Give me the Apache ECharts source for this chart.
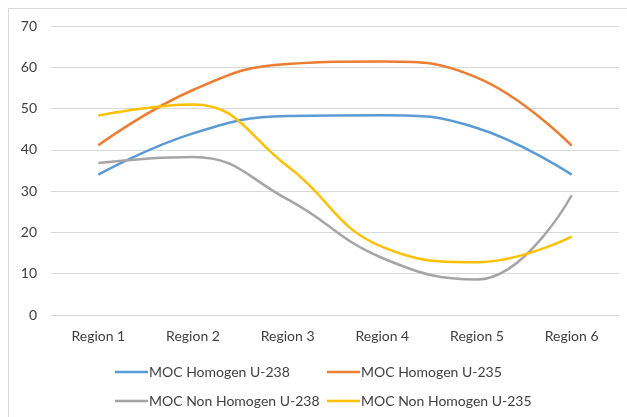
<!DOCTYPE html>
<html><head><meta charset="utf-8">
<script src="https://cdn.jsdelivr.net/npm/echarts@6/dist/echarts.min.js"></script>
<style>html,body{margin:0;padding:0;background:#fff}#c{width:627px;height:417px}</style>
</head><body><div id="c"></div>
<script>
var categories = ['Region 1','Region 2','Region 3','Region 4','Region 5','Region 6'];
var homU238 = [34, 44, 48.2, 48.4, 45.3, 34];
var homU235 = [41.1, 54.5, 60.8, 61.4, 57.5, 41];
var nonHomU238 = [36.8, 38.3, 28, 13.8, 8.6, 29];
var nonHomU235 = [48.3, 51, 36, 16.5, 12.8, 19];
var seriesNames = ['MOC Homogen U-238','MOC Homogen U-235','MOC Non Homogen U-238','MOC Non Homogen U-235'];
var colors = ['#5B9BD5','#ED7D31','#A5A5A5','#FFC000'];
var seriesData = [homU238, homU235, nonHomU238, nonHomU235];

var font = 'Lato, "Open Sans", sans-serif';
function lg(name, left, top) {
  return {
    data: [name], left: left, top: top, icon: 'rect', itemWidth: 33, itemHeight: 2.5, itemGap: 0,
    textStyle: {fontFamily: font, fontSize: 14, color: '#404040', padding: [0,0,0,-4]}
  };
}
var chart = echarts.init(document.getElementById('c'), null, {renderer: 'canvas'});
chart.setOption({
  animation: false,
  color: colors,
  graphic: [{type: 'rect', shape: {x: 8.5, y: 8.5, width: 640, height: 420}, style: {fill: 'none', stroke: '#d9d9d9', lineWidth: 1}, silent: true}],
  grid: {left: 51, right: 8, top: 26, bottom: 102},
  legend: [lg(seriesNames[0], 110, 360), lg(seriesNames[1], 322, 360), lg(seriesNames[2], 110, 389), lg(seriesNames[3], 322, 389)],
  xAxis: {
    type: 'category', data: categories, boundaryGap: true,
    axisLine: {lineStyle: {color: '#d9d9d9'}}, axisTick: {show: false},
    axisLabel: {fontFamily: font, fontSize: 14, color: '#404040', margin: 14}
  },
  yAxis: {
    type: 'value', min: 0, max: 70, interval: 10,
    axisLine: {show: false}, axisTick: {show: false},
    splitLine: {lineStyle: {color: '#d9d9d9'}},
    axisLabel: {fontFamily: font, fontSize: 14, color: '#404040', margin: 14}
  },
  series: seriesData.map(function (d, i) {
    return {name: seriesNames[i], type: 'line', data: d, smooth: 0.45, showSymbol: false,
      lineStyle: {width: 2.5, color: colors[i]}, itemStyle: {color: colors[i]}};
  })
});
</script></body></html>
